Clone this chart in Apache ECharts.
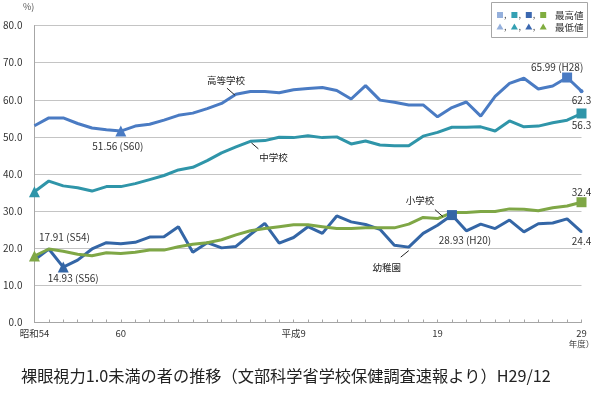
<!DOCTYPE html>
<html>
<head>
<meta charset="utf-8">
<script src="https://cdn.jsdelivr.net/npm/echarts@6/dist/echarts.min.js"></script>
<style>
html,body{margin:0;padding:0;background:#fff;}
#main{width:601px;height:399px;}
</style>
</head>
<body>
<div id="main"></div>
<script>
// 年度 (S=昭和, H=平成)
const years = ['S54','S55','S56','S57','S58','S59','S60','S61','S62','S63',
  'H1','H2','H3','H4','H5','H6','H7','H8','H9','H10',
  'H11','H12','H13','H14','H15','H16','H17','H18','H19','H20',
  'H21','H22','H23','H24','H25','H26','H27','H28','H29'];
const tickLabels = {S54: '昭和54', S60: '60', H9: '平成9', H19: '19', H29: '29'};
const yTicks = [0, 10, 20, 30, 40, 50, 60, 70, 80];

const kindergarten = [16.8, 19.8, 14.93, 16.8, 19.8, 21.5, 21.2, 21.6, 23.0, 23.1,
  25.8, 18.9, 21.5, 20.1, 20.5, 23.7, 26.7, 21.4, 22.9, 25.8,
  24.0, 28.7, 27.1, 26.4, 25.1, 20.8, 20.3, 24.0, 26.2, 28.93,
  24.7, 26.5, 25.3, 27.6, 24.4, 26.6, 26.8, 27.9, 24.4];
const elementary = [17.91, 19.8, 19.2, 18.4, 18.0, 18.8, 18.6, 18.9, 19.5, 19.5,
  20.4, 21.1, 21.5, 22.3, 23.6, 24.7, 25.3, 25.8, 26.3, 26.3,
  25.8, 25.3, 25.3, 25.5, 25.5, 25.5, 26.5, 28.3, 28.0, 29.6,
  29.6, 29.9, 29.9, 30.6, 30.5, 30.1, 30.9, 31.4, 32.4];
const juniorHigh = [35.2, 38.1, 36.8, 36.3, 35.4, 36.6, 36.6, 37.4, 38.5, 39.6,
  41.1, 41.8, 43.6, 45.7, 47.3, 48.8, 49.0, 49.9, 49.8, 50.3,
  49.8, 50.0, 48.1, 48.9, 47.8, 47.6, 47.6, 50.2, 51.2, 52.6,
  52.6, 52.7, 51.6, 54.3, 52.7, 52.9, 53.8, 54.5, 56.3];
const highSchool = [53.0, 55.1, 55.1, 53.6, 52.4, 51.9, 51.56, 52.9, 53.4, 54.5,
  55.8, 56.4, 57.6, 59.0, 61.5, 62.2, 62.2, 61.9, 62.7, 63.0,
  63.3, 62.5, 60.2, 63.8, 59.9, 59.3, 58.6, 58.6, 55.4, 57.9,
  59.4, 55.6, 60.9, 64.4, 65.8, 62.9, 63.7, 65.99, 62.3];

const FONT = '"Noto Sans CJK JP", sans-serif';
const legendColors = ['#95b0dc', '#35a0b3', '#3b68b0', '#80ad3f'];

function build(name, values, color, lab) {
    let lo = values.indexOf(Math.min(...values));
    let hi = values.indexOf(Math.max(...values));
    let last = values.length - 1;
    let data = values.map((v, i) => {
        let item = {value: v, symbol: 'none'};
        if (i === lo) { item.symbol = 'triangle'; item.symbolSize = 11; }
        else if (i === hi) { item.symbol = 'rect'; item.symbolSize = 10; }
        else if (i === last) { item.symbol = 'circle'; item.symbolSize = lab.dot || 2; }
        let key = i === last ? 'last' : i === lo ? 'lo' : i === hi ? 'hi' : null;
        if (key && lab[key]) {
            let txt = i === last ? v.toFixed(1) : v.toFixed(2) + ' (' + years[i] + ')';
            item.label = Object.assign({show: true, formatter: txt, color: '#333',
                fontSize: 10, fontFamily: FONT}, lab[key]);
        }
        return item;
    });
    return {
        name: name, type: 'line', data: data, showSymbol: true, showAllSymbol: true,
        clip: false, color: color,
        lineStyle: {width: 3, color: color}, itemStyle: {color: color},
        emphasis: {disabled: true}
    };
}

let myChart = echarts.init(document.getElementById('main'));
let option = {
    animation: false,
    backgroundColor: '#fff',
    title: {
        text: '裸眼視力1.0未満の者の推移（文部科学省学校保健調査速報より）H29/12',
        left: 21, top: 368, padding: 0,
        textStyle: {fontSize: 16.2, fontWeight: 'normal', color: '#222', fontFamily: FONT}
    },
    grid: {left: 31, right: 19.5, top: 25.5, bottom: 76.5},
    xAxis: {
        type: 'category', data: years, boundaryGap: false,
        axisLine: {lineStyle: {color: '#a6a6a6'}},
        axisTick: {show: true, inside: true, length: 3, interval: 0, lineStyle: {color: '#a6a6a6'}},
        axisLabel: {
            interval: 0, margin: 5, fontSize: 9.5, color: '#333', fontFamily: FONT, lineHeight: 11,
            formatter: (v) => v === 'H29' ? tickLabels[v] + '\n{u|年度）}' : (tickLabels[v] || ''),
            rich: {u: {fontSize: 8.5, color: '#444', fontFamily: FONT, lineHeight: 11}}
        },
        splitLine: {show: false}
    },
    yAxis: {
        type: 'value', min: yTicks[0], max: yTicks[yTicks.length - 1], interval: 10,
        axisLine: {show: true, lineStyle: {color: '#a6a6a6'}},
        axisTick: {show: false},
        axisLabel: {margin: 12, fontSize: 10, color: '#333', fontFamily: FONT,
            formatter: (v) => v.toFixed(1)},
        splitLine: {lineStyle: {color: '#c4c4c4', width: 1}}
    },
    series: [
        build('幼稚園', kindergarten, '#3466a6', {
            lo: {position: 'bottom', distance: 1, offset: [10, 0]},
            hi: {position: 'bottom', distance: 15, offset: [13, 0]},
            last: {position: 'bottom', distance: 3}
        }),
        build('小学校', elementary, '#7fa746', {
            lo: {position: 'top', distance: 8, offset: [30, 0]},
            last: {position: 'top', distance: 0}
        }),
        build('中学校', juniorHigh, '#2f95a9', {
            last: {position: 'bottom', distance: 2}
        }),
        build('高等学校', highSchool, '#4a7bc3', {
            lo: {position: 'bottom', distance: 5, offset: [-3, 0]},
            hi: {position: 'top', distance: 0, offset: [-10, 0]},
            last: {position: 'bottom', distance: 2},
            dot: 4
        })
    ]
};
myChart.setOption(option);

// series name notes with leader lines, anchored to a data point
const notes = [
    {s: 3, at: 'H5', text: '高等学校', t: [-10, -14], a: [-9, -6], b: [-1, 1]},
    {s: 2, at: 'H6', text: '中学校', t: [23, 16], a: [1, 1.5], b: [8, 7.5]},
    {s: 1, at: 'H20', text: '小学校', t: [-32, -12], a: [-17, -3], b: [-9, 4]},
    {s: 0, at: 'H17', text: '幼稚園', t: [-22, 20], a: [-8, 10], b: [0, 3.5]}
];
const seriesValues = [kindergarten, elementary, juniorHigh, highSchool];
let graphics = [];
notes.forEach((n) => {
    let i = years.indexOf(n.at);
    let p = myChart.convertToPixel({seriesIndex: n.s}, [i, seriesValues[n.s][i]]);
    graphics.push({type: 'text', x: p[0] + n.t[0], y: p[1] + n.t[1], z: 10,
        style: {text: n.text, fontSize: 9.5, fill: '#222', fontFamily: FONT,
            align: 'center', verticalAlign: 'middle'}});
    graphics.push({type: 'line', z: 10,
        shape: {x1: p[0] + n.a[0], y1: p[1] + n.a[1], x2: p[0] + n.b[0], y2: p[1] + n.b[1]},
        style: {stroke: '#222', lineWidth: 1}});
});

// legend box
graphics.push({type: 'rect', z: 20, shape: {x: 491.5, y: 2.5, width: 96, height: 35},
    style: {fill: '#fff', stroke: '#a6a6a6', lineWidth: 1}});
legendColors.forEach((c, k) => {
    let cx = 500 + 14.4 * k;
    graphics.push({type: 'rect', z: 21, shape: {x: cx - 3, y: 12, width: 6, height: 6}, style: {fill: c}});
    graphics.push({type: 'polygon', z: 21, shape: {points: [[cx, 23.5], [cx + 3.5, 29.5], [cx - 3.5, 29.5]]}, style: {fill: c}});
    if (k < 3) {
        graphics.push({type: 'text', z: 21, x: cx + 4, y: 15, style: {text: ',', fontSize: 9, fill: '#555',
            fontFamily: FONT, verticalAlign: 'middle'}});
        graphics.push({type: 'text', z: 21, x: cx + 4, y: 27, style: {text: ',', fontSize: 9, fill: '#555',
            fontFamily: FONT, verticalAlign: 'middle'}});
    }
});
graphics.push({type: 'text', z: 21, x: 555, y: 15, style: {text: '最高値', fontSize: 9.5, fill: '#333',
    fontFamily: FONT, verticalAlign: 'middle'}});
graphics.push({type: 'text', z: 21, x: 555, y: 27, style: {text: '最低値', fontSize: 9.5, fill: '#333',
    fontFamily: FONT, verticalAlign: 'middle'}});
// unit
graphics.push({type: 'text', x: 23, y: 7, style: {text: '%)', fontSize: 9, fill: '#555',
    fontFamily: FONT, verticalAlign: 'middle'}});

myChart.setOption({graphic: graphics});
</script>
</body>
</html>
